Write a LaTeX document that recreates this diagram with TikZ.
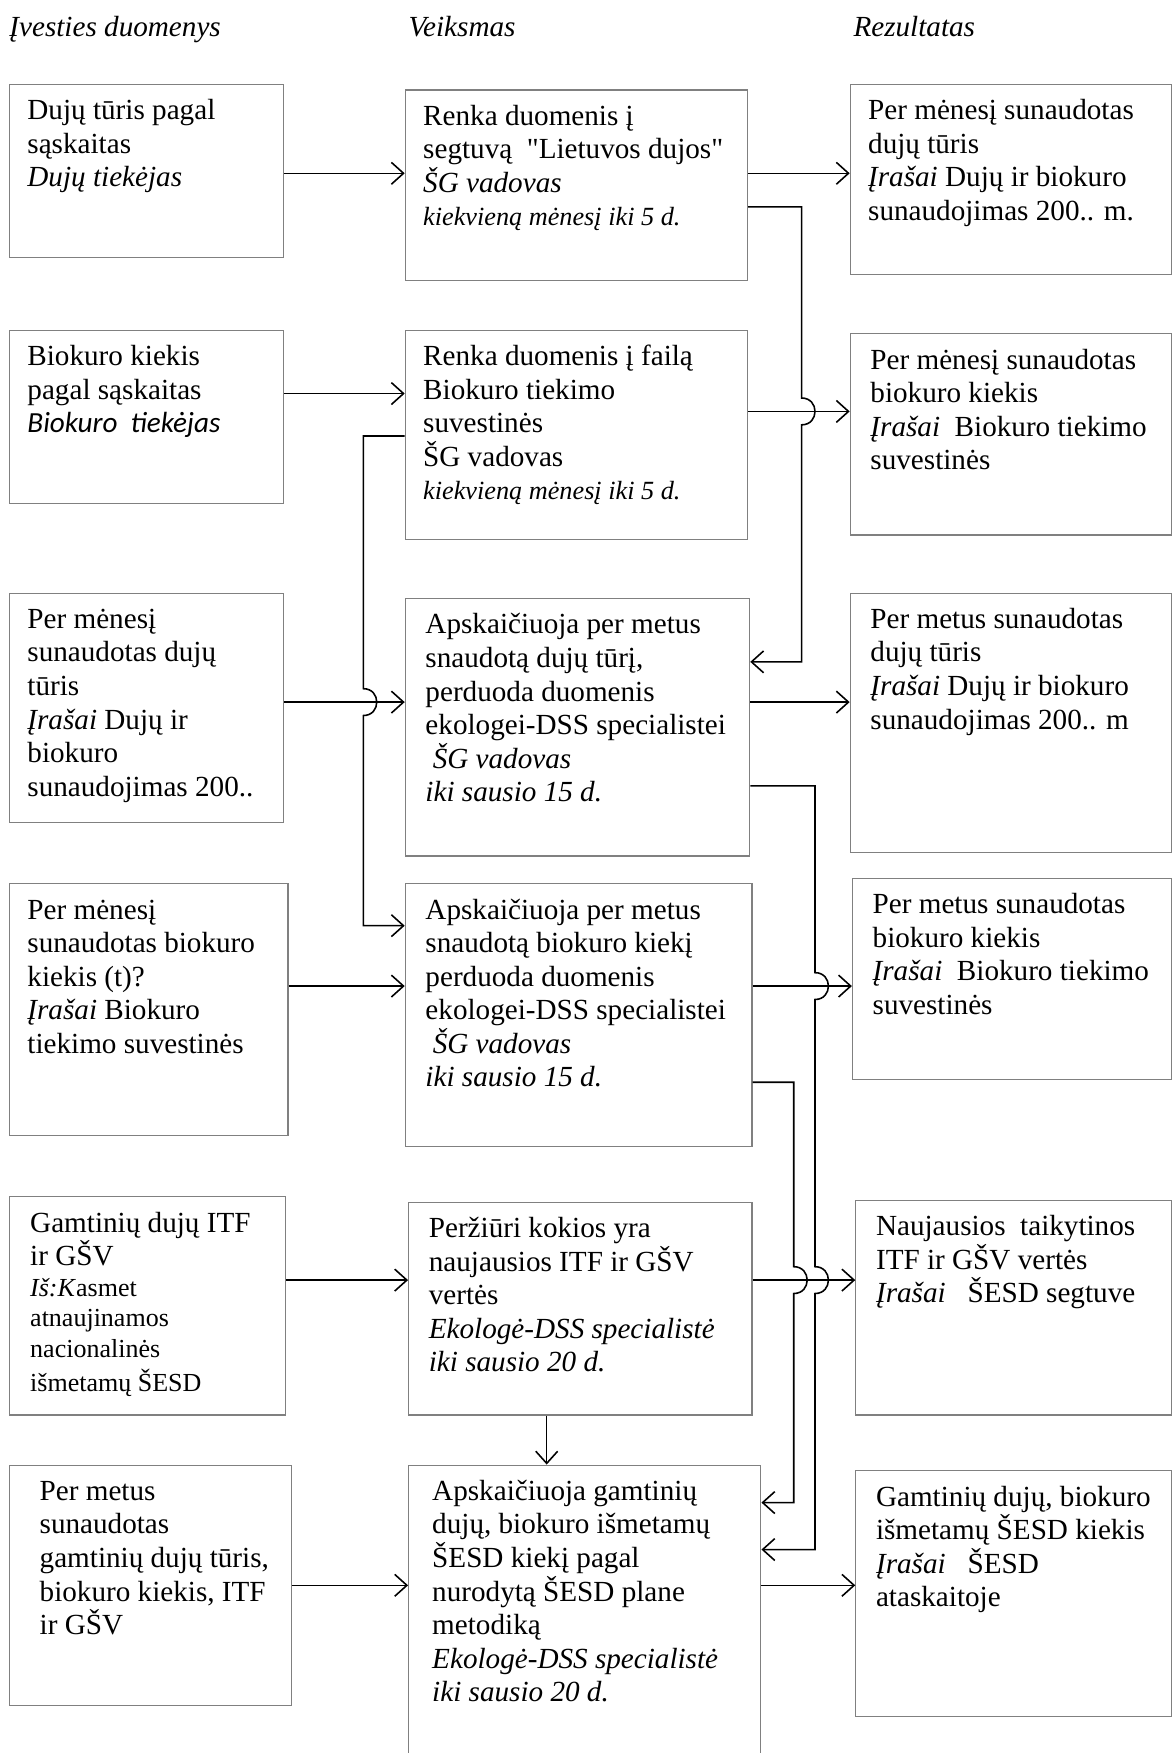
\documentclass[tikz,border=0pt]{standalone}
\usepackage{fontspec}
\setmainfont{Liberation Serif}
\newfontfamily\calibfont{Carlito}
\newfontfamily\qfont{Liberation Serif}
\usetikzlibrary{arrows.meta}

\newcommand{\smit}{\fontsize{10.8}{13.8}\selectfont\itshape}
\newcommand{\smup}{\fontsize{10.7}{12.6}\selectfont}

\begin{document}
\begin{tikzpicture}[x=0.46pt, y=-0.46pt,
  blk/.code 2 args={%
    \pgfmathsetmacro\bxw{#1*0.46}%
    \pgfmathsetmacro\bxd{(#2-31.5)*0.46}%
    \edef\bxtmp{\noexpand\tikzset{text width=\bxw pt, text depth=\bxd pt}}\bxtmp
    \tikzset{draw=black!50, line width=0.5pt, anchor=north west, inner sep=0pt,
      align=flush left, text height=14.5pt,
      execute at begin node={\leftskip=7.36pt\relax},
      font=\fontsize{12}{13.8}\selectfont}},
  lpad/.style={execute at begin node={\leftskip=#1\relax}},
  hdr/.style={anchor=base west, inner sep=0pt, font=\fontsize{12}{13.8}\selectfont\itshape},
  arr/.style={line width=0.65pt, -{Straight Barb[length=5pt,width=9pt]}}]
\useasboundingbox (0,0) rectangle (1049,1568);
\clip (0,0) rectangle (1049,1568);

% column heads
\node[hdr] (h1) at (8,33) {Įvesties duomenys};
\node[hdr] (h2) at (365,33) {Veiksmas};
\node[hdr] (h3) at (763,33) {Rezultatas};

% input column
\node[blk={245}{155}] (l1) at (8,75) {Dujų tūris pagal\\ sąskaitas\\ \textit{Dujų tiekėjas}};
\node[blk={245}{155}] (l2) at (8,295) {Biokuro kiekis\\ pagal sąskaitas\\ {\calibfont\itshape Biokuro\ \ tiekėjas}};
\node[blk={245}{205}] (l3) at (8,530) {Per mėnesį\\ sunaudotas dujų\\ tūris\\ \textit{Įrašai} Dujų ir\\ biokuro\\ sunaudojimas 200..};
\node[blk={249}{225}] (l4) at (8,790) {Per mėnesį\\ sunaudotas biokuro\\ kiekis (t)?\\ \textit{Įrašai} Biokuro\\ tiekimo suvestinės};
\node[blk={247}{195}, lpad=8.5pt] (l5) at (8,1070) {Gamtinių dujų ITF\\ ir GŠV\\ \smup\textit{Iš:K}asmet\\ atnaujinamos\\ nacionalinės\\ išmetamų ŠESD};
\node[blk={252}{215}, lpad=12.4pt] (l6) at (8,1310) {Per metus\\ sunaudotas\\ gamtinių dujų tūris,\\ biokuro kiekis, ITF\\ ir GŠV};

% action column
\node[blk={306}{170}] (m1) at (362,80) {Renka duomenis į\\ segtuvą\ \ {\qfont"}Lietuvos dujos{\qfont"}\\ \textit{ŠG vadovas}\\ \smit kiekvieną mėnesį iki 5 d.};
\node[blk={306}{187}] (m2) at (362,295) {Renka duomenis į failą\\ Biokuro tiekimo\\ suvestinės\\ ŠG vadovas\\ \smit kiekvieną mėnesį iki 5 d.};
\node[blk={308}{230}, lpad=8.3pt] (m3) at (362,535) {Apskaičiuoja per metus\\ snaudotą dujų tūrį,\\ perduoda duomenis\\ ekologei-DSS specialistei\\ \hspace*{0.25em}\textit{ŠG vadovas}\\ \textit{iki sausio 15 d.}};
\node[blk={310}{235}, lpad=8.3pt] (m4) at (362,790) {Apskaičiuoja per metus\\ snaudotą biokuro kiekį\\ perduoda duomenis\\ ekologei-DSS specialistei\\ \hspace*{0.25em}\textit{ŠG vadovas}\\ \textit{iki sausio 15 d.}};
\node[blk={307}{190}, lpad=8.3pt] (m5) at (365,1075) {Peržiūri kokios yra\\ naujausios ITF ir GŠV\\ vertės\\ \textit{Ekologė-DSS specialistė}\\ \textit{iki sausio 20 d.}};
\node[blk={315}{270}, lpad=9.7pt] (m6) at (365,1310) {Apskaičiuoja gamtinių\\ dujų, biokuro išmetamų\\ ŠESD kiekį pagal\\ nurodytą ŠESD plane\\ metodiką\\ \textit{Ekologė-DSS specialistė}\\ \textit{iki sausio 20 d.}};

% result column
\node[blk={287}{170}] (r1) at (760,75) {Per mėnesį sunaudotas\\ dujų tūris\\ \textit{Įrašai} Dujų ir biokuro\\ sunaudojimas 200.. m.};
\node[blk={287}{180}, lpad=8.3pt] (r2) at (760,298) {Per mėnesį sunaudotas\\ biokuro kiekis\\ \textit{Įrašai}\ \ Biokuro tiekimo\\ suvestinės};
\node[blk={287}{232}, lpad=8.3pt] (r3) at (760,530) {Per metus sunaudotas\\ dujų tūris\\ \textit{Įrašai} Dujų ir biokuro\\ sunaudojimas 200.. m};
\node[blk={285}{180}, lpad=8.3pt] (r4) at (762,785) {Per metus sunaudotas\\ biokuro kiekis\\ \textit{Įrašai}\ \ Biokuro tiekimo\\ suvestinės};
\node[blk={282}{192}, lpad=8.3pt] (r5) at (765,1073) {Naujausios\ \ taikytinos\\ ITF ir GŠV vertės\\ \textit{Įrašai}\ \ \ ŠESD segtuve};
\node[blk={282}{220}, lpad=8.3pt] (r6) at (765,1315) {Gamtinių dujų, biokuro\\ išmetamų ŠESD kiekis\\ \textit{Įrašai}\ \ \ ŠESD\\ ataskaitoje};

% straight arrows
\draw[arr] (l1.east |- 0,155) -- (m1.west |- 0,155);
\draw[arr] (m1.east |- 0,155) -- (r1.west |- 0,155);
\draw[arr] (l2.east |- 0,352) -- (m2.west |- 0,352);
\draw[arr] (m2.east |- 0,368) -- (r2.west |- 0,368);
\draw[arr] (l3.east |- 0,628) -- (m3.west |- 0,628);
\draw[arr] (m3.east |- 0,628) -- (r3.west |- 0,628);
\draw[arr] (l4.east |- 0,882) -- (m4.west |- 0,882);
\draw[arr] (m4.east |- 0,882) -- (r4.west |- 0,882);
\draw[arr] (l5.east |- 0,1145) -- (m5.west |- 0,1145);
\draw[arr] (m5.east |- 0,1145) -- (r5.west |- 0,1145);
\draw[arr] (l6.east |- 0,1418) -- (m6.west |- 0,1418);
\draw[arr] (m6.east |- 0,1418) -- (r6.west |- 0,1418);
\draw[arr] (m5.south -| 489,0) -- (m6.north -| 489,0);

% routed arrows, hopping over the crossings
\draw[arr] (m1.east |- 0,185) -- (717,185) -- (717,356)
  .. controls (733,356) and (733,380) .. (717,380) -- (717,592) -- (m3.east |- 0,592);
\draw[arr] (m2.west |- 0,390) -- (325,390) -- (325,616)
  .. controls (341,616) and (341,640) .. (325,640) -- (325,828) -- (m4.west |- 0,828);
\draw[arr] (m3.east |- 0,703) -- (729,703) -- (729,870)
  .. controls (745,870) and (745,894) .. (729,894) -- (729,1133)
  .. controls (745,1133) and (745,1157) .. (729,1157) -- (729,1386) -- (m6.east |- 0,1386);
\draw[arr] (m4.east |- 0,968) -- (710,968) -- (710,1133)
  .. controls (726,1133) and (726,1157) .. (710,1157) -- (710,1344) -- (m6.east |- 0,1344);
\end{tikzpicture}
\end{document}
